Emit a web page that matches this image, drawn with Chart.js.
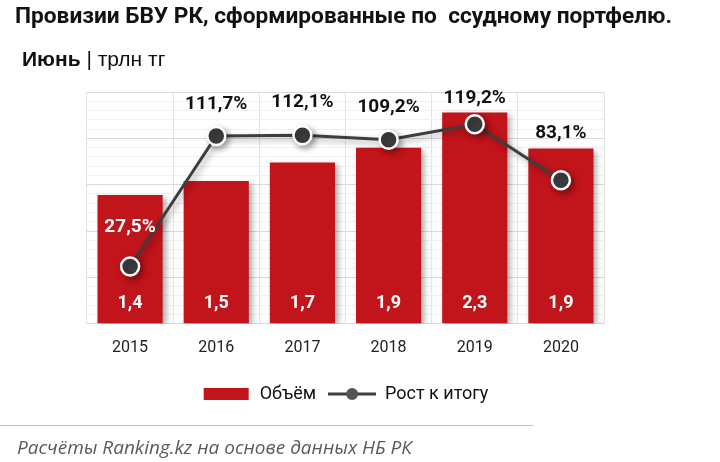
<!DOCTYPE html>
<html>
<head>
<meta charset="utf-8">
<script src="https://cdn.jsdelivr.net/npm/chart.js@4/dist/chart.umd.min.js"></script>
<style>
  html, body { margin: 0; padding: 0; background: #fff; }
  #wrap { position: relative; width: 720px; height: 462px; overflow: hidden; }
  #c { position: absolute; left: 0; top: 0; }
  .title { position: absolute; left: 15px; top: 2px; font: bold 22.7px Roboto, sans-serif; color: #111; white-space: nowrap; }
  .sub { position: absolute; left: 22px; top: 47px; font: 21px "Liberation Sans", Arial, sans-serif; color: #111; white-space: nowrap; }
  .sub b { font-weight: bold; }
  .sep { position: absolute; left: 0; top: 425px; width: 533px; height: 0; border-top: 1.5px solid #c4c4c4; }
  .foot { position: absolute; left: 17px; top: 434px; font: italic 19px "Open Sans", sans-serif; color: #5a5a5a; white-space: nowrap; }
</style>
</head>
<body>
<div id="wrap">
  <canvas id="c" width="720" height="462"></canvas>
  <div class="title">Провизии БВУ РК, сформированные по&nbsp; ссудному портфелю.</div>
  <div class="sub"><b>Июнь</b> | трлн тг</div>
  <div class="sep"></div>
  <div class="foot">Расчёты Ranking.kz на основе данных НБ РК</div>
</div>
<script>
const years = ['2015', '2016', '2017', '2018', '2019', '2020'];
const volume = [1.39, 1.54, 1.74, 1.9, 2.28, 1.89];
const growth = [27.5, 111.7, 112.1, 109.2, 119.2, 83.1];
const seriesNames = ['Объём', 'Рост к итогу'];

const RED = '#c1141b';
const DARK = '#3d3d3d';

function fmt(v, d) { return v.toFixed(d).replace('.', ','); }

function legendImg(kind) {
  const c = document.createElement('canvas');
  c.width = 48; c.height = 14;
  const x = c.getContext('2d');
  if (kind === 'bar') {
    x.fillStyle = RED; x.fillRect(1, 1, 45, 12);
  } else {
    x.strokeStyle = DARK; x.lineWidth = 3;
    x.beginPath(); x.moveTo(0, 7); x.lineTo(48, 7); x.stroke();
    x.fillStyle = '#555'; x.beginPath(); x.arc(24, 7, 6, 0, Math.PI * 2); x.fill();
  }
  return c;
}

const shadowPlugin = {
  id: 'shadow',
  beforeDatasetDraw(chart, args) {
    const ctx = chart.ctx;
    ctx.save();
    ctx.shadowColor = 'rgba(0,0,0,0.35)';
    ctx.shadowBlur = 6;
    ctx.shadowOffsetX = 3;
    ctx.shadowOffsetY = 3;
  },
  afterDatasetDraw(chart) { chart.ctx.restore(); }
};

const labelPlugin = {
  id: 'valueLabels',
  afterDatasetsDraw(chart, args, opts) {
    const ctx = chart.ctx;
    ctx.save();
    ctx.textAlign = 'center';
    ctx.textBaseline = 'middle';
    const barMeta = chart.getDatasetMeta(1);
    const yScale = chart.scales.y;
    ctx.font = 'bold 18px Roboto, sans-serif';
    ctx.fillStyle = '#ffffff';
    barMeta.data.forEach((el, i) => {
      ctx.fillText(fmt(volume[i], 1), el.x, yScale.bottom - opts.barLabelRise);
    });
    const lineMeta = chart.getDatasetMeta(0);
    ctx.font = 'bold 19px Roboto, sans-serif';
    lineMeta.data.forEach((el, i) => {
      ctx.fillStyle = opts.lineLabelColors[i];
      ctx.fillText(fmt(growth[i], 1) + '%', el.x, el.y - opts.lineLabelRise[i]);
    });
    ctx.restore();
  }
};

new Chart(document.getElementById('c'), {
  data: {
    labels: years,
    datasets: [
      {
        type: 'line',
        label: seriesNames[1],
        data: growth,
        yAxisID: 'y1',
        borderColor: DARK,
        borderWidth: 3,
        pointRadius: 9,
        pointBorderWidth: 2.5,
        pointBackgroundColor: DARK,
        pointBorderColor: '#ffffff',
        order: 0,
        clip: false
      },
      {
        type: 'bar',
        label: seriesNames[0],
        data: volume,
        yAxisID: 'y',
        backgroundColor: RED,
        barPercentage: 0.756,
        categoryPercentage: 1,
        order: 1
      }
    ]
  },
  options: {
    responsive: false,
    animation: false,
    devicePixelRatio: 1,
    layout: { padding: { left: 87, right: 116, top: 92, bottom: 49 } },
    scales: {
      x: {
        offset: true,
        grid: { display: true, offset: true, color: '#e2e2e2', drawTicks: false },
        border: { display: false },
        ticks: { padding: 15, color: '#222', font: { family: 'Roboto', size: 16 } }
      },
      y: {
        min: 0, max: 2.5,
        border: { display: false },
        grid: {
          drawTicks: false,
          color: c => (Math.round(c.tick.value * 10) % 5 === 0) ? '#dadada' : '#f1f1f1'
        },
        ticks: { display: false, stepSize: 0.1, maxTicksLimit: 100 }
      },
      y1: {
        display: false,
        position: 'right',
        min: -9.4, max: 140
      }
    },
    plugins: {
      title: { display: false },
      tooltip: { enabled: false },
      legend: {
        position: 'bottom',
        labels: {
          usePointStyle: true,
          pointStyleWidth: 48,
          boxHeight: 14,
          padding: 12,
          color: '#111',
          font: { family: 'Roboto', size: 18 },
          generateLabels(chart) {
            return [
              { text: seriesNames[0], pointStyle: legendImg('bar'), fillStyle: RED, strokeStyle: RED, lineWidth: 0, datasetIndex: 1, fontColor: '#111' },
              { text: seriesNames[1], pointStyle: legendImg('line'), fillStyle: DARK, strokeStyle: DARK, lineWidth: 0, datasetIndex: 0, fontColor: '#111' }
            ];
          }
        }
      },
      valueLabels: {
        barLabelRise: 20,
        lineLabelRise: [39, 32, 33, 33, 26, 47],
        lineLabelColors: ['#ffffff', '#111111', '#111111', '#111111', '#111111', '#111111']
      }
    }
  },
  plugins: [shadowPlugin, labelPlugin]
});
</script>
</body>
</html>
